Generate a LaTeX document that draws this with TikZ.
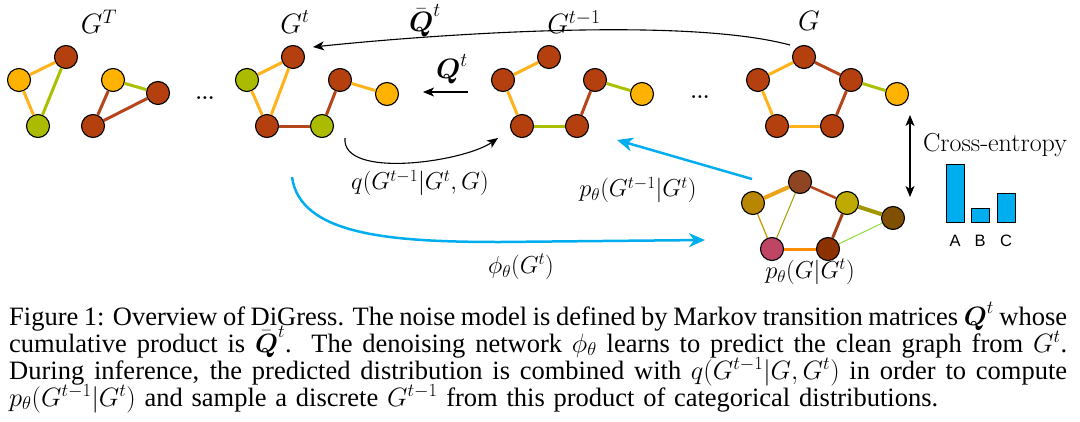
\documentclass[tikz,border=0pt]{standalone}
\usepackage{fix-cm}
\usepackage{fontspec}
\usepackage{amsmath}
\usetikzlibrary{arrows.meta}
\newfontfamily\capfont{Liberation Serif}
\newfontfamily\abcfont{Liberation Sans}
\definecolor{nbrown}{HTML}{B4400F}
\definecolor{norange}{HTML}{FFB300}
\definecolor{ngreen}{HTML}{AABB00}
\definecolor{eorange}{HTML}{FFB21A}
\definecolor{egreen}{HTML}{AAC000}
\definecolor{ebrown}{HTML}{B5451B}
\definecolor{cyanb}{HTML}{00AEEF}
\definecolor{pTop}{HTML}{8F4521}
\definecolor{pLeft}{HTML}{B88600}
\definecolor{pRight}{HTML}{BEAA00}
\definecolor{pFar}{HTML}{805000}
\definecolor{pPink}{HTML}{BE4664}
\definecolor{pBR}{HTML}{8C3200}
\tikzset{
  vtx/.style={circle, draw=black, line width=1.1pt, minimum size=23pt, inner sep=0pt},
  vb/.style={vtx, fill=nbrown},
  vo/.style={vtx, fill=norange},
  vg/.style={vtx, fill=ngreen},
  eo/.style={line width=3pt, draw=eorange},
  eg/.style={line width=3pt, draw=egreen},
  eb/.style={line width=3pt, draw=ebrown},
  lbl/.style={font=\fontsize{28}{32}\selectfont, inner sep=0pt},
  slbl/.style={font=\fontsize{24.5}{29}\selectfont, inner sep=0pt},
  captext/.style={font=\capfont\fontsize{26.5}{27}\selectfont, inner sep=0pt},
  blk/.style={line width=1.1pt, -{Stealth[length=11pt,width=9pt,inset=3pt]}},
  blu/.style={line width=2.5pt, draw=cyanb, -{Stealth[length=16pt,width=14pt,inset=5pt]}},
  barbox/.style={draw=black, line width=1pt, fill=cyanb, inner sep=0pt, anchor=south west, minimum width=18pt},
  dotstext/.style={font=\fontsize{20}{20}\selectfont\bfseries, inner sep=0pt},
  abc/.style={font=\abcfont\fontsize{16.5}{18}\selectfont, inner sep=0pt}
}
\begin{document}
\begin{tikzpicture}[x=1pt,y=-1pt]
\useasboundingbox (0,0) rectangle (1080,421);

% ---------- G^T graphs ----------
\node[vo] (a1) at (19,80) {};
\node[vb] (a2) at (66,57) {};
\node[vg] (a3) at (38,126) {};
\node[vo] (b1) at (113,80) {};
\node[vb] (b2) at (158,93) {};
\node[vb] (b3) at (93,126) {};
\draw[eo] (a1) -- (a2);
\draw[eg] (a2) -- (a3);
\draw[eo] (a1) -- (a3);
\draw[eg] (b1) -- (b2);
\draw[eb] (b1) -- (b3);
\draw[eb] (b3) -- (b2);

% ---------- G^t graph ----------
\node[vg] (c1) at (247,80) {};
\node[vb] (c2) at (293,57) {};
\node[vb] (c3) at (267,126) {};
\node[vg] (c4) at (322,126) {};
\node[vb] (c5) at (340,80) {};
\node[vo] (c6) at (387,94) {};
\draw[eo] (c1) -- (c2);
\draw[eo] (c2) -- (c3);
\draw[eo] (c1) -- (c3);
\draw[eb] (c3) -- (c4);
\draw[eb] (c4) -- (c5);
\draw[eo] (c5) -- (c6);

% ---------- G^{t-1} graph ----------
\node[vb] (d1) at (549,57) {};
\node[vb] (d2) at (503,80) {};
\node[vb] (d3) at (522,126) {};
\node[vb] (d4) at (577,126) {};
\node[vb] (d5) at (595,80) {};
\node[vo] (d6) at (642,94) {};
\draw[eo] (d1) -- (d2);
\draw[eo] (d2) -- (d3);
\draw[eg] (d3) -- (d4);
\draw[eb] (d4) -- (d5);
\draw[eg] (d5) -- (d6);

% ---------- G graph ----------
\node[vb] (g1) at (804,57) {};
\node[vb] (g2) at (758,80) {};
\node[vb] (g3) at (777,126) {};
\node[vb] (g4) at (832,126) {};
\node[vb] (g5) at (851,80) {};
\node[vo] (g6) at (897,94) {};
\draw[eo] (g1) -- (g2);
\draw[eo] (g2) -- (g3);
\draw[eo] (g3) -- (g4);
\draw[eb] (g4) -- (g5);
\draw[eb] (g5) -- (g1);
\draw[eg] (g5) -- (g6);

% ---------- p_theta(G|G^t) graph ----------
\node[vtx, fill=pTop] (p1) at (800,182) {};
\node[vtx, fill=pLeft] (p2) at (753,203) {};
\node[vtx, fill=pRight] (p3) at (847,203) {};
\node[vtx, fill=pFar] (p4) at (893,218) {};
\node[vtx, fill=pPink] (p5) at (772,249) {};
\node[vtx, fill=pBR] (p6) at (828,249) {};
\draw[line width=4pt, draw=eorange!92!black] (p2) -- (p1);
\draw[line width=2.5pt, draw=ebrown] (p1) -- (p3);
\draw[line width=1pt, draw=olive!80!yellow] (p1) -- (p5);
\draw[line width=1.3pt, draw=pLeft!80!yellow] (p2) -- (p5);
\draw[line width=3pt, draw=orange!90!yellow] (p5) -- (p6);
\draw[line width=3pt, draw=ebrown!90!black] (p6) -- (p3);
\draw[line width=4pt, draw=olive!85!yellow] (p3) -- (p4);
\draw[line width=1pt, draw=egreen!70!green!80!white] (p6) -- (p4);

% ---------- labels ----------
\node[lbl] (lGT) at (99,22) {$G^T$};
\node[lbl] (lGt) at (295,22) {$G^t$};
\node[lbl] (lQb) at (425,21) {$\bar{\boldsymbol{Q}}^t$};
\node[lbl] (lQ) at (452,69) {$\boldsymbol{Q}^t$};
\node[lbl] (lGt1) at (574,22) {$G^{t-1}$};
\node[lbl] (lG) at (809,21) {$G$};
\node[dotstext] (dots1) at (205,98) {...};
\node[dotstext] (dots2) at (700,97) {...};
\node[slbl] (lq) at (420,183) {$q(G^{t-1}|G^t,G)$};
\node[slbl] (lp) at (638,190) {$p_\theta(G^{t-1}|G^t)$};
\node[slbl] (lphi) at (521,267) {$\phi_\theta(G^t)$};
\node[slbl] (lpg) at (810,272) {$p_\theta(G|G^t)$};
\node[font=\fontsize{26}{30}\selectfont, inner sep=0pt] (ce) at (995,145) {Cross-entropy};

% ---------- arrows ----------
\coordinate (tbs) at (790,45);
\coordinate (tbe) at (313,47);
\draw[blk] (tbs) to[out=165,in=6,looseness=0.6] (tbe);
\coordinate (qs) at (468,92);
\coordinate (qe) at (423,92);
\draw[blk] (qs) -- (qe);
\coordinate (qcs) at (345,138);
\coordinate (qce) at (498,138);
\draw[blk] (qcs) to[out=-95,in=-145,looseness=0.7] (qce);
\coordinate (pbs) at (752,179);
\coordinate (pbe) at (617,140);
\draw[blu] (pbs) -- (pbe);
\coordinate (phs) at (292,177);
\coordinate (phe) at (705,240);
\draw[blu] (phs) .. controls (300,235) and (390,242) .. (500,242) -- (phe);
\coordinate (ces) at (910,197);
\coordinate (cee) at (910,115);
\draw[line width=1.1pt, {Stealth[length=11pt,width=9pt,inset=3pt]}-{Stealth[length=11pt,width=9pt,inset=3pt]}] (ces) -- (cee);

% ---------- bars ----------
\node[barbox, minimum height=58pt] (barA) at (946,223) {};
\node[barbox, minimum height=14pt] (barB) at (971,223) {};
\node[barbox, minimum height=29pt] (barC) at (997,223) {};
\node[abc] (tA) at (955,241) {A};
\node[abc] (tB) at (980,241) {B};
\node[abc] (tC) at (1006,241) {C};

% ---------- caption ----------
\node[captext, anchor=base west] (cap1) at (9,325) {\makebox[1058pt][s]{Figure 1: Overview of DiGress. The noise model is defined by Markov transition matrices $\boldsymbol{Q}^t$ whose}};
\node[captext, anchor=base west] (cap2) at (9,352) {\makebox[1058pt][s]{cumulative product is $\bar{\boldsymbol{Q}}^t$.\ \ The denoising network $\phi_\theta$ learns to predict the clean graph from $G^t$.}};
\node[captext, anchor=base west] (cap3) at (9,379) {\makebox[1058pt][s]{During inference, the predicted distribution is combined with $q(G^{t-1}|G,G^t)$ in order to compute}};
\node[captext, anchor=base west] (cap4) at (9,406) {\makebox[929pt][s]{$p_\theta(G^{t-1}|G^t)$ and sample a discrete $G^{t-1}$ from this product of categorical distributions.}};
\end{tikzpicture}
\end{document}
